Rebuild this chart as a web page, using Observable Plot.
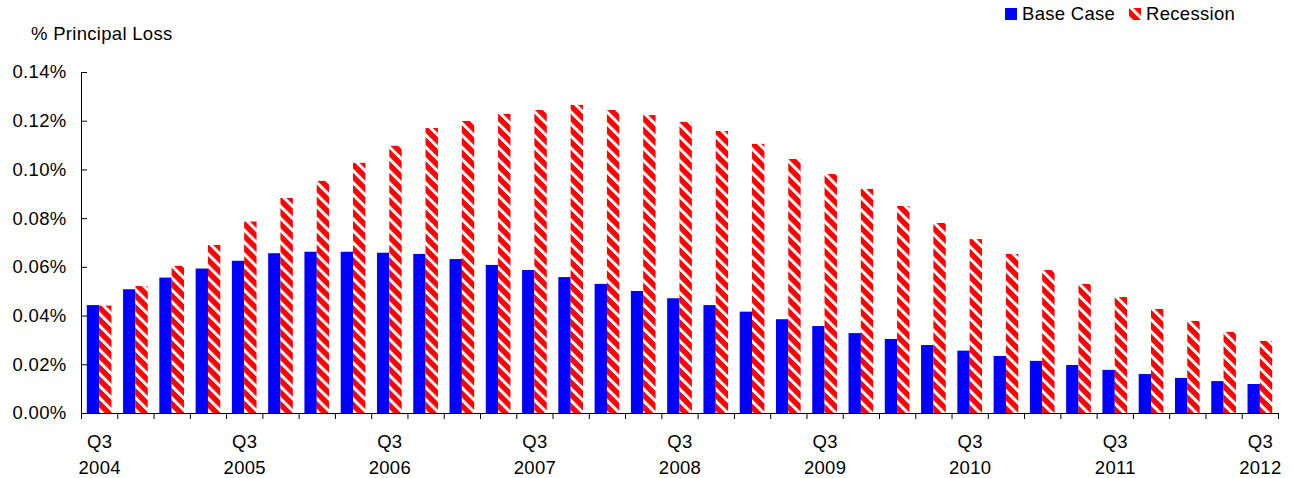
<!DOCTYPE html>
<html><head><meta charset="utf-8">
<script src="https://cdn.jsdelivr.net/npm/d3@7"></script>
<script src="https://cdn.jsdelivr.net/npm/@observablehq/plot@0.6"></script>
<style>
body{margin:0;background:#fff;font-family:"Liberation Sans",Arial,sans-serif;}
#wrap{position:relative;width:1294px;height:478px;overflow:hidden;}
.lbl{position:absolute;font-size:18.5px;letter-spacing:0.3px;line-height:18px;color:#000;white-space:nowrap;}
.sw{position:absolute;width:12px;height:12px;}
#chart{position:absolute;left:0;top:0;}
#chart svg{overflow:visible;}
</style></head><body>
<svg width="0" height="0" style="position:absolute">
  <defs>
    <pattern id="hatch" patternUnits="userSpaceOnUse" width="8.5" height="8.5" patternTransform="rotate(-45)">
      <rect width="8.5" height="8.5" fill="#ff0000"/>
      <rect width="3" height="8.5" fill="#ffffff"/>
    </pattern>
  </defs>
</svg>
<div id="wrap">
  <div id="chart"></div>
  <div class="lbl" style="left:31px;top:25px">% Principal Loss</div>
  <svg class="sw" style="left:1005px;top:8px" width="12" height="12"><rect width="12" height="12" fill="#0000ff"/></svg>
  <div class="lbl" id="lg0" style="left:1022px;top:5px"></div>
  <svg class="sw" style="left:1129px;top:8px" width="12" height="12"><rect width="12" height="12" fill="url(#hatch)"/></svg>
  <div class="lbl" id="lg1" style="left:1146px;top:5px"></div>
</div>
<script>
const seriesNames = ["Base Case", "Recession"];
const quarters = [
  "Q3 2004","Q4 2004","Q1 2005","Q2 2005","Q3 2005","Q4 2005","Q1 2006","Q2 2006",
  "Q3 2006","Q4 2006","Q1 2007","Q2 2007","Q3 2007","Q4 2007","Q1 2008","Q2 2008",
  "Q3 2008","Q4 2008","Q1 2009","Q2 2009","Q3 2009","Q4 2009","Q1 2010","Q2 2010",
  "Q3 2010","Q4 2010","Q1 2011","Q2 2011","Q3 2011","Q4 2011","Q1 2012","Q2 2012",
  "Q3 2012"
];
const baseCase = [
  0.0443,0.0508,0.0556,0.0593,0.0625,0.0656,0.0662,0.0662,0.0658,0.0653,0.0632,
  0.0608,0.0587,0.0558,0.0530,0.0501,0.0471,0.0443,0.0416,0.0385,0.0357,0.0328,
  0.0304,0.0279,0.0256,0.0234,0.0214,0.0197,0.0177,0.0160,0.0144,0.0131,0.0119
];
const recession = [
  0.0441,0.0521,0.0604,0.0690,0.0786,0.0883,0.0953,0.1027,0.1097,0.1170,0.1199,
  0.1228,0.1244,0.1265,0.1244,0.1223,0.1195,0.1158,0.1105,0.1043,0.0981,0.0920,
  0.0850,0.0780,0.0714,0.0653,0.0587,0.0530,0.0476,0.0427,0.0378,0.0333,0.0296
];
const yTicks = [0, 0.02, 0.04, 0.06, 0.08, 0.10, 0.12, 0.14];

document.getElementById("lg0").textContent = seriesNames[0];
document.getElementById("lg1").textContent = seriesNames[1];

const rows = quarters.map((q, i) => ({q, i, base: baseCase[i], rec: recession[i]}));
const labelIdx = quarters.map((q, i) => i).filter(i => quarters[i].startsWith("Q3"));

const chart = Plot.plot({
  width: 1294, height: 478,
  marginLeft: 81, marginRight: 16, marginTop: 72, marginBottom: 65,
  style: {fontFamily: '"Liberation Sans", Arial, sans-serif', fontSize: "18.5px", letterSpacing: "0.3px", color: "#000", background: "transparent"},
  x: {type: "linear", domain: [0, quarters.length], axis: null, label: null},
  y: {domain: [0, 0.14], axis: null, label: null},
  marks: [
    Plot.rectY(rows, {x1: "i", x2: d => d.i + 1, y: "base", fill: "#0000ff", insetLeft: 5.8, insetRight: 18.1}),
    Plot.rectY(rows, {x1: "i", x2: d => d.i + 1, y: "rec", fill: "url(#hatch)", insetLeft: 18.1, insetRight: 5.8}),
    Plot.ruleY([0], {stroke: "#000"}),
    Plot.ruleX([0], {stroke: "#000"}),
    Plot.axisX(d3.range(quarters.length + 1), {tickSize: 6, tickFormat: () => "", stroke: "#000", label: null}),
    Plot.axisX(labelIdx.map(i => i + 0.5), {tickSize: 0, tickPadding: 17, lineHeight: 1.36, label: null,
      tickFormat: v => quarters[Math.round(v - 0.5)].replace(" ", "\n")}),
    Plot.axisY(yTicks, {tickSize: 0, tickPadding: 15, label: null, tickFormat: d => d.toFixed(2) + "%"}),
    Plot.axisY(yTicks, {tickSize: 6, dx: 6, label: null, tickFormat: () => "", stroke: "#000"})
  ]
});
document.getElementById("chart").appendChild(chart);
</script>
</body></html>
